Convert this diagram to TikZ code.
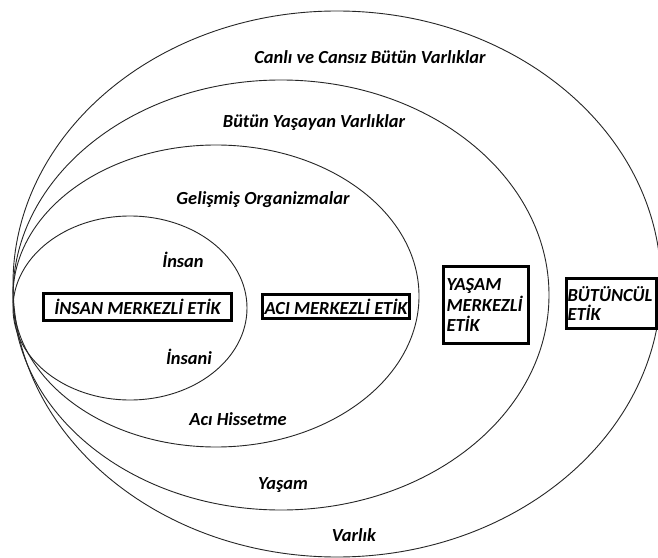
\documentclass[tikz,border=0pt]{standalone}
\usepackage{fontspec}
\setmainfont{Carlito}
\begin{document}
\begin{tikzpicture}[x=1bp,y=-1bp,
  ring/.style={draw=black!85,line width=0.9bp},
  lbl/.style={font=\fontsize{18.5}{20}\selectfont\bfseries\itshape,inner sep=0pt},
  etikbox/.style={draw=black,line width=3bp,font=\fontsize{18.5}{20.5}\selectfont\bfseries\itshape,inner sep=0pt,align=left}]
\useasboundingbox (0,0) rectangle (658,558);
\fill[white] (0,0) rectangle (658,558);
\clip (0,0) rectangle (658,558);
% nested ellipses touching at the left
\draw[ring] (337,284) ellipse [x radius=324bp, y radius=273bp];
\draw[ring] (281,295) ellipse [x radius=268bp, y radius=215bp];
\draw[ring] (216,296) ellipse [x radius=203bp, y radius=151bp];
\draw[ring] (130,308) ellipse [x radius=117bp, y radius=92bp];
% labels
\node[lbl] (l1) at (370,57) {Canlı ve Cansız Bütün Varlıklar};
\node[lbl] (l2) at (314,123) {Bütün Yaşayan Varlıklar};
\node[lbl] (l3) at (263,200) {Gelişmiş Organizmalar};
\node[lbl] (l4) at (183,260) {İnsan};
\node[lbl] (l5) at (189,357) {İnsani};
\node[lbl] (l6) at (238,419) {Acı Hissetme};
\node[lbl] (l7) at (283,485) {Yaşam};
\node[lbl] (l8) at (354,535) {Varlık};
% boxes
\node[etikbox,minimum width=188bp,minimum height=27bp,align=center] (b1) at (137.5,307) {İNSAN MERKEZLİ ETİK};
\node[etikbox,minimum width=147bp,minimum height=24bp,align=center] (b2) at (336,306.5) {ACI MERKEZLİ ETİK};
\node[etikbox,minimum width=85bp,minimum height=77bp,text width=79bp] (b3) at (486,305) {YAŞAM\\MERKEZLİ\\ETİK};
\node[etikbox,minimum width=90bp,minimum height=50bp,text width=87bp,font=\fontsize{18.5}{19}\selectfont\bfseries\itshape] (b4) at (611,303.5) {BÜTÜNCÜL\\ETİK};
\end{tikzpicture}
\end{document}
